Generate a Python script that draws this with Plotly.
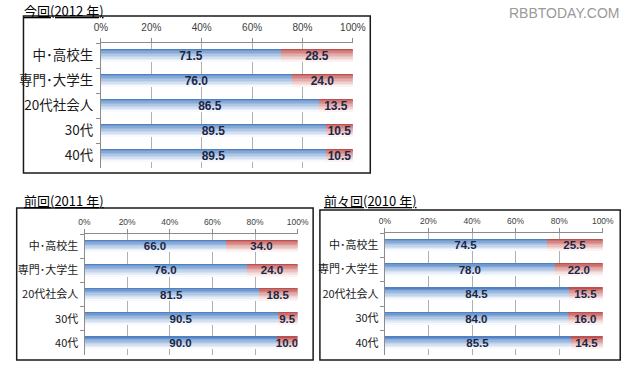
import plotly.graph_objects as go

categories = ["中･高校生", "専門･大学生", "20代社会人", "30代", "40代"]
yes_2012 = [71.5, 76.0, 86.5, 89.5, 89.5]
no_2012 = [28.5, 24.0, 13.5, 10.5, 10.5]
yes_2011 = [66.0, 76.0, 81.5, 90.5, 90.0]
no_2011 = [34.0, 24.0, 18.5, 9.5, 10.0]
yes_2010 = [74.5, 78.0, 84.5, 84.0, 85.5]
no_2010 = [25.5, 22.0, 15.5, 16.0, 14.5]
tick_vals = [0, 20, 40, 60, 80, 100]
tick_text = ["0%", "20%", "40%", "60%", "80%", "100%"]
titles = ["今回(2012 年)", "前回(2011 年)", "前々回(2010 年)"]

W, H = 640, 365

def px(x):
    return x / W

def py(y):
    return 1 - y / H

panels = [
    dict(yes=yes_2012, no=no_2012, title=titles[0], plot=(97, 43, 357, 168),
         box=(17, 16, 375, 173), tpos=(17, 0), cat=13.5, tick=10, lab=12, bw=0.52,
         xstand=3, ystand=4),
    dict(yes=yes_2011, no=no_2011, title=titles[1], plot=(80, 234, 300, 355),
         box=(10, 208, 316, 360), tpos=(16, 190), cat=11, tick=8.5, lab=11.5, bw=0.5,
         xstand=1, ystand=3),
    dict(yes=yes_2010, no=no_2010, title=titles[2], plot=(390, 233, 615, 355),
         box=(323, 210, 633, 360), tpos=(326, 190), cat=11, tick=8.5, lab=11.5, bw=0.5,
         xstand=1, ystand=3),
]

def blend(c1, c2, t):
    return "rgb(%d,%d,%d)" % tuple(round(a + (b - a) * t) for a, b in zip(c1, c2))

blue_top, blue_bot = (79, 129, 195), (246, 249, 254)
red_top, red_bot = (192, 80, 77), (252, 242, 242)
NB = 9

fig = go.Figure()
layout = {}
shapes = []
annotations = []

for i, p in enumerate(panels):
    n = "" if i == 0 else str(i + 1)
    xa, ya = "x" + n, "y" + n
    bw = p["bw"]
    bh = bw / NB
    for k in range(NB):
        t = k / (NB - 1)
        fig.add_trace(go.Bar(
            x=p["yes"], y=categories, base=0, orientation="h", xaxis=xa, yaxis=ya,
            offset=-bw / 2 + k * bh, width=bh * 1.02,
            marker=dict(color=blend(blue_top, blue_bot, t ** 0.8), line=dict(width=0)),
            hoverinfo="skip", showlegend=False))
        fig.add_trace(go.Bar(
            x=p["no"], y=categories, base=p["yes"], orientation="h", xaxis=xa, yaxis=ya,
            offset=-bw / 2 + k * bh, width=bh * 1.02,
            marker=dict(color=blend(red_top, red_bot, t ** 0.8), line=dict(width=0)),
            hoverinfo="skip", showlegend=False))
    for vals, base in ((p["yes"], 0), (p["no"], p["yes"])):
        fig.add_trace(go.Bar(
            x=vals, y=categories, base=base, orientation="h", xaxis=xa, yaxis=ya,
            width=bw, marker=dict(color="rgba(0,0,0,0)", line=dict(width=0)),
            texttemplate="%{x:.1f}", textposition="inside", insidetextanchor="middle",
            textangle=0, constraintext="none",
            textfont=dict(family="Liberation Sans", size=p["lab"], color="#1b2744", weight="bold"),
            hoverinfo="skip", showlegend=False))

    x0, y0, x1, y1 = p["plot"]
    xkey = "xaxis" + n
    ykey = "yaxis" + n
    layout[xkey] = dict(
        domain=[px(x0), px(x1)], range=[0, 100], side="top", anchor=ya,
        tickvals=tick_vals, ticktext=tick_text, showgrid=True, gridcolor="#b0b0b0",
        gridwidth=1, showline=True, linecolor="#8c8c8c", ticks="outside", ticklen=4,
        tickcolor="#8c8c8c", zeroline=False, ticklabelstandoff=p["xstand"],
        tickfont=dict(family="Liberation Sans", size=p["tick"], color="#404040"))
    layout[ykey] = dict(
        domain=[py(y1), py(y0)], range=[4.5, -0.5], anchor=xa, type="category",
        categoryorder="array", categoryarray=categories,
        showline=True, linecolor="#8c8c8c", ticks="outside", ticklen=4,
        tickcolor="#8c8c8c", tickson="boundaries", showgrid=False,
        ticklabelstandoff=p["ystand"],
        tickfont=dict(family="Noto Sans CJK JP", size=p["cat"], color="#1a1a1a"))

    bx0, by0, bx1, by1 = p["box"]
    shapes.append(dict(type="rect", xref="paper", yref="paper",
                       x0=px(bx0), x1=px(bx1), y0=py(by1), y1=py(by0),
                       line=dict(color="#1a1a1a", width=1.5), layer="below"))
    tx, ty = p["tpos"]
    annotations.append(dict(
        text=p["title"], xref="paper", yref="paper", x=px(tx), y=py(ty),
        xanchor="left", yanchor="top", showarrow=False, borderpad=0,
        font=dict(family="Noto Sans CJK JP", size=13, color="#000000",
                  weight="normal", lineposition="under")))

annotations.append(dict(
    text="RBBTODAY.COM", xref="paper", yref="paper", x=px(634), y=py(13),
    xanchor="right", yanchor="middle", showarrow=False,
    font=dict(family="Liberation Sans", size=14, color="#9a9a9a")))

fig.update_layout(
    width=W, height=H, margin=dict(l=0, r=0, t=0, b=0),
    paper_bgcolor="white", plot_bgcolor="rgba(0,0,0,0)",
    barmode="overlay", bargap=0, shapes=shapes, annotations=annotations,
    **layout)

fig.write_html("out.html", config={"displayModeBar": False},
               post_script="document.body.style.margin='0';document.body.style.overflow='hidden';")
